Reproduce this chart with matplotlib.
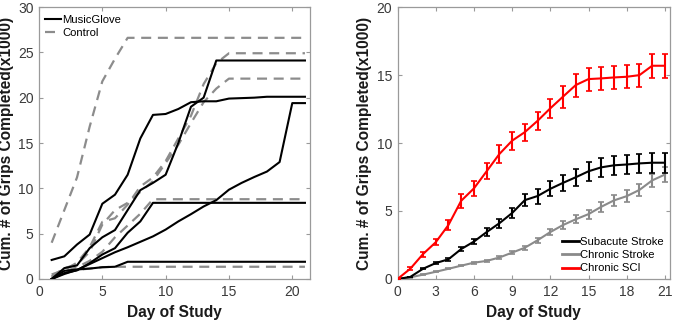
import matplotlib
matplotlib.use("Agg")
import matplotlib.pyplot as plt
from matplotlib.lines import Line2D

plt.rcParams['font.family'] = ['Liberation Sans', 'DejaVu Sans']

# ---------------- Left panel data ----------------
days_left = list(range(1, 22))
musicglove = [
    [2.1, 2.5, 3.8, 4.9, 8.3, 9.3, 11.5, 15.5, 18.1, 18.2, 18.75, 19.5, 19.6, 19.6, 19.9, 19.95, 20.0, 20.1, 20.1, 20.1, 20.1],
    [0.0, 1.2, 1.5, 3.4, 4.6, 5.4, 7.6, 9.8, 10.6, 11.5, 15.0, 19.0, 20.0, 24.1, 24.1, 24.1, 24.1, 24.1, 24.1, 24.1, 24.1],
    [0.0, 0.65, 0.95, 1.75, 2.7, 3.4, 5.1, 6.35, 8.4, 8.4, 8.4, 8.4, 8.4, 8.4, 8.4, 8.4, 8.4, 8.4, 8.4, 8.4, 8.4],
    [0.0, 0.55, 1.0, 1.65, 2.3, 2.95, 3.5, 4.1, 4.7, 5.45, 6.35, 7.15, 8.0, 8.7, 9.85, 10.6, 11.25, 11.85, 12.9, 19.4, 19.4],
    [0.0, 0.9, 1.05, 1.15, 1.3, 1.35, 1.9, 1.9, 1.9, 1.9, 1.9, 1.9, 1.9, 1.9, 1.9, 1.9, 1.9, 1.9, 1.9, 1.9, 1.9],
]
control = [
    [4.0, 7.6, 11.2, 16.8, 21.8, 24.3, 26.6, 26.6, 26.6, 26.6, 26.6, 26.6, 26.6, 26.6, 26.6, 26.6, 26.6, 26.6, 26.6, 26.6, 26.6],
    [0.5, 1.0, 1.8, 3.5, 6.3, 6.7, 8.2, 10.2, 11.2, 13.0, 15.5, 18.0, 21.5, 23.8, 24.9, 24.9, 24.9, 24.9, 24.9, 24.9, 24.9],
    [0.3, 1.2, 1.6, 3.0, 6.0, 7.6, 8.4, 9.6, 10.8, 12.8, 14.8, 17.2, 19.5, 21.0, 22.1, 22.1, 22.1, 22.1, 22.1, 22.1, 22.1],
    [0.2, 0.8, 1.3, 2.0, 3.0, 4.6, 5.9, 7.2, 8.8, 8.8, 8.8, 8.8, 8.8, 8.8, 8.8, 8.8, 8.8, 8.8, 8.8, 8.8, 8.8],
    [0.0, 0.85, 1.0, 1.15, 1.3, 1.35, 1.35, 1.35, 1.35, 1.35, 1.35, 1.35, 1.35, 1.35, 1.35, 1.35, 1.35, 1.35, 1.35, 1.35, 1.35],
]
left_xticks = [0, 5, 10, 15, 20]
left_yticks = [0, 5, 10, 15, 20, 25, 30]

# ---------------- Right panel data ----------------
days_right = list(range(0, 22))
subacute = [0, 0.15, 0.75, 1.17, 1.45, 2.2, 2.75, 3.45, 4.1, 4.85, 5.8, 6.1, 6.63, 7.07, 7.48, 7.92, 8.21, 8.36, 8.42, 8.5, 8.55, 8.55]
subacute_err = [0, 0.03, 0.05, 0.07, 0.1, 0.12, 0.2, 0.27, 0.32, 0.38, 0.45, 0.55, 0.55, 0.6, 0.62, 0.68, 0.68, 0.7, 0.7, 0.72, 0.72, 0.72]
chronic_stroke = [0, 0.12, 0.32, 0.53, 0.75, 0.98, 1.2, 1.33, 1.58, 1.94, 2.3, 2.85, 3.45, 3.97, 4.39, 4.77, 5.31, 5.78, 6.09, 6.55, 7.25, 7.68]
chronic_stroke_err = [0, 0.02, 0.03, 0.04, 0.05, 0.06, 0.07, 0.08, 0.1, 0.12, 0.15, 0.2, 0.22, 0.28, 0.3, 0.33, 0.38, 0.4, 0.45, 0.45, 0.5, 0.58]
chronic_sci = [0, 0.75, 1.83, 2.7, 3.97, 5.75, 6.66, 7.92, 9.19, 10.17, 10.8, 11.63, 12.55, 13.41, 14.26, 14.7, 14.75, 14.82, 14.87, 14.99, 15.68, 15.68]
chronic_sci_err = [0, 0.12, 0.18, 0.22, 0.35, 0.5, 0.55, 0.6, 0.65, 0.65, 0.62, 0.67, 0.7, 0.8, 0.85, 0.85, 0.85, 0.85, 0.85, 0.85, 0.88, 0.88]
right_xticks = [0, 3, 6, 9, 12, 15, 18, 21]
right_yticks = [0, 5, 10, 15, 20]

ylabel = "Cum. # of Grips Completed(x1000)"
xlabel = "Day of Study"

fig = plt.figure(figsize=(6.74, 3.24), dpi=100)
ax1 = fig.add_axes([39/674, 45/324, 271/674, 272/324])
ax2 = fig.add_axes([397.5/674, 45/324, 272.5/674, 272/324])

spine_col = '#9a9a9a'
tick_col = '#3a3a3a'

def style(ax):
    for s in ax.spines.values():
        s.set_color(spine_col)
        s.set_linewidth(0.9)
    ax.tick_params(direction='in', length=3, width=0.8, color=spine_col,
                   labelcolor=tick_col, labelsize=10, top=True, right=True, pad=4)
    ax.set_ylabel(ylabel, fontsize=11.2, fontweight='bold', labelpad=3, color='#1a1a1a')
    ax.set_xlabel(xlabel, fontsize=11.2, fontweight='bold', labelpad=5, color='#1a1a1a')

# Left
for i, s in enumerate(control):
    ax1.plot(days_left, s, color='#8c8c8c', lw=1.6, ls=(0, (4.5, 3)),
             label='Control' if i == 0 else None, zorder=2)
for i, s in enumerate(musicglove):
    ax1.plot(days_left, s, color='black', lw=1.5,
             label='MusicGlove' if i == 0 else None, zorder=3)
ax1.set_xlim(0, 21.4)
ax1.set_ylim(0, 30)
ax1.set_xticks(left_xticks)
ax1.set_yticks(left_yticks)
style(ax1)
h, l = ax1.get_legend_handles_labels()
order = [l.index('MusicGlove'), l.index('Control')]
ax1.legend([h[i] for i in order], [l[i] for i in order], loc='upper left',
           bbox_to_anchor=(0.01, 0.982), frameon=False, fontsize=8.1,
           handlelength=1.45, handletextpad=0.1, labelspacing=0.3,
           borderaxespad=0.0, borderpad=0.25)

# Right
ax2.errorbar(days_right, subacute, yerr=subacute_err, color='black', lw=1.5,
             elinewidth=1.5, capsize=2, capthick=1.2, label='Subacute Stroke', zorder=3)
ax2.errorbar(days_right, chronic_stroke, yerr=chronic_stroke_err, color='#8a8a8a', lw=1.5,
             elinewidth=1.5, capsize=2, capthick=1.2, label='Chronic Stroke', zorder=2)
ax2.errorbar(days_right, chronic_sci, yerr=chronic_sci_err, color='#ff0000', lw=1.5,
             elinewidth=1.5, capsize=2, capthick=1.2, label='Chronic SCI', zorder=4)
ax2.set_xlim(0, 21.4)
ax2.set_ylim(0, 20)
ax2.set_xticks(right_xticks)
ax2.set_yticks(right_yticks)
style(ax2)
handles, labels = ax2.get_legend_handles_labels()
hl = [Line2D([], [], color=hh[0].get_color(), lw=2) for hh in handles]
ax2.legend(hl, labels, loc='lower left', bbox_to_anchor=(0.595, 0.01),
           frameon=False, fontsize=8.1, handlelength=1.45, handletextpad=0.1,
           labelspacing=0.3, borderaxespad=0.0, borderpad=0.25)

fig.savefig('out.png', dpi=100)
